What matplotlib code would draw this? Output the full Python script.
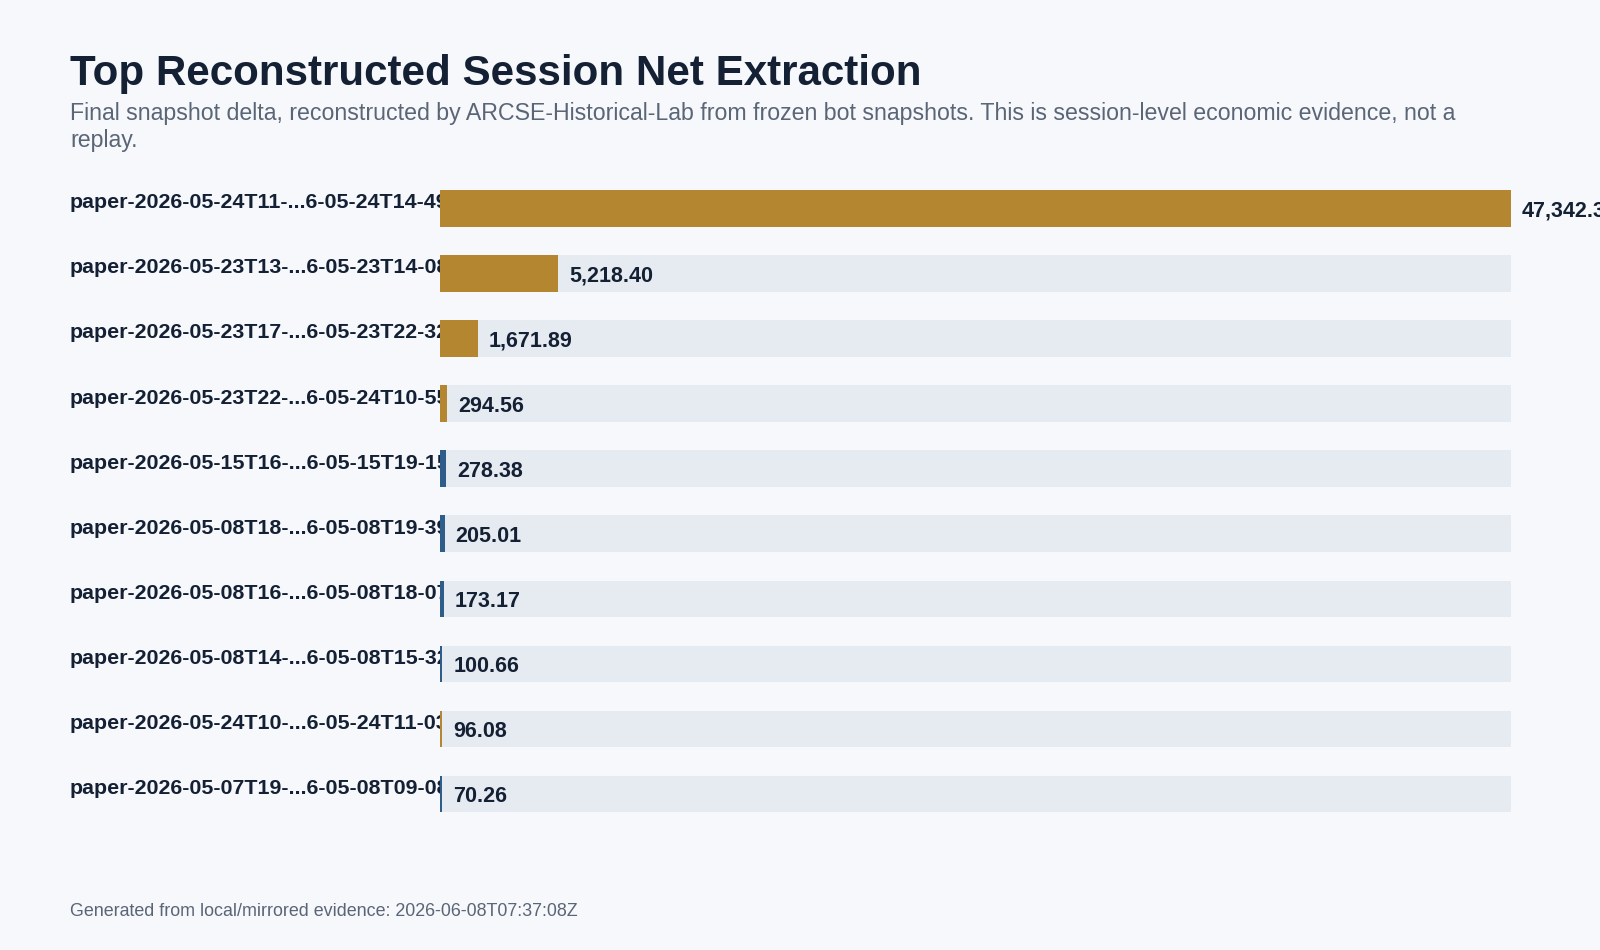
import matplotlib.pyplot as plt

plt.rcParams['font.family'] = ['Liberation Sans', 'DejaVu Sans']

TITLE = "Top Reconstructed Session Net Extraction"
SUBTITLE_LINES = [
    "Final snapshot delta, reconstructed by ARCSE-Historical-Lab from frozen bot snapshots. "
    "This is session-level economic evidence, not a",
    "replay.",
]
FOOTER = "Generated from local/mirrored evidence: 2026-06-08T07:37:08Z"

sessions = [
    "paper-2026-05-24T11-...6-05-24T14-49",
    "paper-2026-05-23T13-...6-05-23T14-08",
    "paper-2026-05-23T17-...6-05-23T22-32",
    "paper-2026-05-23T22-...6-05-24T10-55",
    "paper-2026-05-15T16-...6-05-15T19-15",
    "paper-2026-05-08T18-...6-05-08T19-39",
    "paper-2026-05-08T16-...6-05-08T18-07",
    "paper-2026-05-08T14-...6-05-08T15-32",
    "paper-2026-05-24T10-...6-05-24T11-03",
    "paper-2026-05-07T19-...6-05-08T09-08",
]
net_extraction = [47342.3, 5218.40, 1671.89, 294.56, 278.38, 205.01, 173.17, 100.66, 96.08, 70.26]
value_labels = ["47,342.3", "5,218.40", "1,671.89", "294.56", "278.38",
                "205.01", "173.17", "100.66", "96.08", "70.26"]
series = ["gold", "gold", "gold", "gold", "blue", "blue", "blue", "blue", "gold", "blue"]

BG = '#f6f8fc'
TRACK = '#e6ebf2'
INK = '#142033'
MUTED = '#5a6576'
COLORS = {'gold': '#b3862f', 'blue': '#2f5d8a'}

fig = plt.figure(figsize=(16, 9.5), dpi=100, facecolor=BG)

ax = fig.add_axes([440 / 1600, 0.130, 1071 / 1600, 0.685])
lab_ax = fig.add_axes([70 / 1600, 0.130, 370 / 1600, 0.685])

ys = list(range(len(sessions)))
top = max(net_extraction)

# grey track behind every bar, then the value bar itself
ax.barh(ys, [top] * len(ys), height=0.56, color=TRACK, zorder=1)
ax.barh(ys, net_extraction, height=0.56,
        color=[COLORS[s] for s in series], zorder=2)

for y, v, txt in zip(ys, net_extraction, value_labels):
    ax.annotate(txt, (v, y), xytext=(8, 0), textcoords='offset points',
                va='center_baseline', ha='left', fontsize=15.5,
                fontweight='bold', color=INK, annotation_clip=False)

# session names are cut off where the track starts
for y, name in zip(ys, sessions):
    lab_ax.text(0, y, name, va='baseline', ha='left', fontsize=15.4,
                fontweight='bold', color=INK, clip_on=True)

for a in (ax, lab_ax):
    a.set_ylim(len(ys) - 0.5, -0.5)
    a.axis('off')
ax.set_xlim(0, top)
lab_ax.set_xlim(0, 1)

fig.text(70 / 1600, 1 - 85 / 950, TITLE, fontsize=30.3, fontweight='bold',
         color=INK, va='baseline')
for i, line in enumerate(SUBTITLE_LINES):
    fig.text(70 / 1600, 1 - (120 + 27 * i) / 950, line, fontsize=16.7,
             color=MUTED, va='baseline')
fig.text(70 / 1600, 1 - 916 / 950, FOOTER, fontsize=12.9, color=MUTED,
         va='baseline')

fig.savefig('out.png', dpi=100, facecolor=BG)
